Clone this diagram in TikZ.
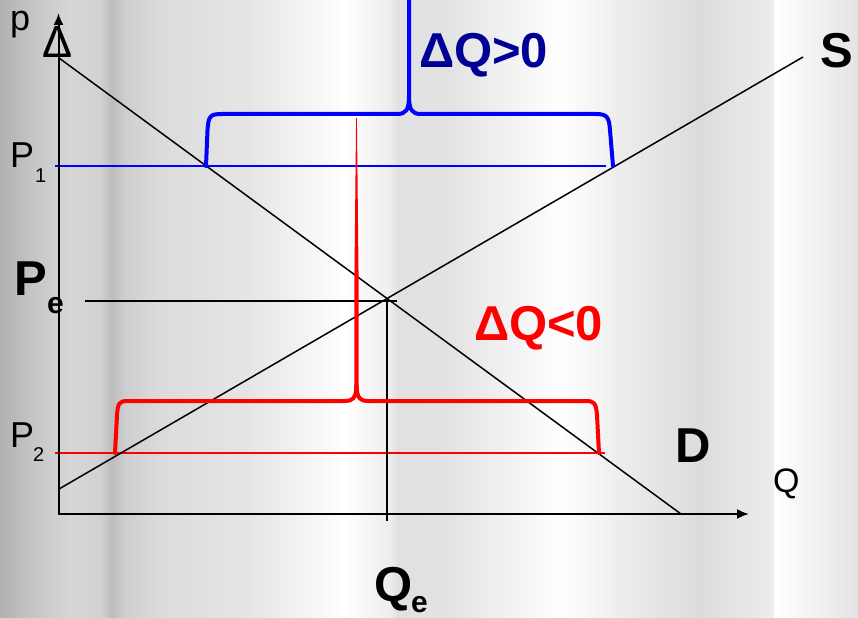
\documentclass[tikz,border=0pt]{standalone}
\usepackage{fontspec}
\setmainfont{Liberation Sans}
\usetikzlibrary{arrows.meta}
\definecolor{navy}{RGB}{0,0,150}
\definecolor{pblue}{RGB}{0,0,255}
\definecolor{pred}{RGB}{255,0,0}
\newcommand\fsz[1]{\fontsize{#1bp}{#1bp}\selectfont}
\newcommand\bgseg[4]{\shade[left color=black!#3, right color=black!#4] (#1,0) rectangle (#2,618);}
\tikzset{
  lbl/.style={inner sep=0pt, outer sep=0pt, anchor=base west},
  axis/.style={line width=2bp, -{Latex[length=12bp,width=10bp]}},
  curve/.style={line width=1.5bp, black},
  brace/.style={line width=4bp, line join=round, line cap=round},
}
\begin{document}
\begin{tikzpicture}[x=1bp,y=-1bp]
\useasboundingbox (0,0) rectangle (858,618);
\clip (0,0) rectangle (858,618);
% background stripes
\bgseg{-1}{30.5}{31}{23}
\bgseg{30}{70.5}{23}{16}
\bgseg{70}{100.5}{16}{18}
\bgseg{100}{112.5}{18}{26}
\bgseg{112}{125.5}{26}{19}
\bgseg{125}{160.5}{19}{14}
\bgseg{160}{250.5}{14}{10}
\bgseg{250}{330.5}{10}{2}
\bgseg{330}{345.5}{2}{0}
\bgseg{345}{390.5}{0}{7}
\bgseg{390}{397.5}{7}{12}
\bgseg{397}{450.5}{12}{11}
\bgseg{450}{560.5}{11}{0}
\bgseg{560}{620.5}{0}{7}
\bgseg{620}{700.5}{7}{14}
\bgseg{700}{772.5}{14}{7}
\bgseg{772}{775.5}{7}{0}
\bgseg{775}{859}{0}{11}

% coordinates
\coordinate (O) at (58.5,515);
\coordinate (ytip) at (58.5,13);
\coordinate (xtip) at (749,514);
\coordinate (D1) at (59,58);
\coordinate (D2) at (681,514);
\coordinate (S1) at (59,489);
\coordinate (S2) at (803,57);
\coordinate (Pe1) at (85,301);
\coordinate (Pe2) at (397,301);
\coordinate (Qe1) at (387,301);
\coordinate (Qe2) at (387,521);
\coordinate (P1a) at (55,166);
\coordinate (P1b) at (606,166);
\coordinate (P2a) at (55,453);
\coordinate (P2b) at (605,453);

% price lines
\draw[pblue, line width=1.5bp] (P1a) -- (P1b);
\draw[pred, line width=2bp] (P2a) -- (P2b);
\draw[curve] (Pe1) -- (Pe2);
\draw[curve] (Qe1) -- (Qe2);

% supply / demand
\draw[curve] (D1) -- (D2);
\draw[curve] (S1) -- (S2);

% axes
\draw[axis] (57.5,514) -- (xtip);
\draw[axis] (O) -- (ytip);

% blue brace
\draw[brace, pblue] (206,166) -- (207.5,130) .. controls (208.5,116) and (210,114) .. (222,114)
  -- (397,114) .. controls (406,114) and (409,110) .. (409,96) -- (409,-10);
\draw[brace, pblue] (409,96) .. controls (409,110) and (412,114) .. (421,114)
  -- (596,114) .. controls (607,114) and (609,117) .. (610,130) -- (613,166);

% red brace
\draw[brace, pred] (115,453) -- (117,415) .. controls (118,403) and (119,401) .. (128,401)
  -- (345,401) .. controls (352,401) and (356,399) .. (356.5,386);
\draw[brace, pred] (356.5,386) .. controls (357,399) and (361,401) .. (368,401)
  -- (586,401) .. controls (594,401) and (596,403) .. (597,415) -- (599,453);
\fill[pred] (354.3,392) -- (354.3,290) -- (356.1,118) -- (356.9,118) -- (358.7,290) -- (358.7,392) -- cycle;

% labels
\node[lbl] (p) at (10,31) {\fsz{36}p};
\node[inner sep=0pt, anchor=base] (delta) at (58,58) {\fsz{45}Δ};
\node[lbl] (P1) at (10,168) {\fsz{36}P};
\node[lbl] (P1s) at (35,183) {\fsz{20}1};
\node[lbl] (P2) at (10,447) {\fsz{36}P};
\node[lbl] (P2s) at (33,461) {\fsz{20}2};
\node[lbl] (Pe) at (14,295) {\fsz{49}\bfseries P};
\node[lbl] (Pes) at (47,313) {\fsz{30}\bfseries e};
\node[lbl] (Qe) at (374,601) {\fsz{49}\bfseries Q};
\node[lbl] (Qes) at (411,612) {\fsz{30}\bfseries e};
\node[lbl] (Dl) at (675,462) {\fsz{49}\bfseries D};
\node[lbl] (Sl) at (820,68) {\fsz{49}\bfseries S};
\node[lbl] (Ql) at (773,492) {\fsz{34}Q};
\node[lbl, text=navy] (dqp) at (419,68) {\fsz{49}\bfseries ΔQ>0};
\node[lbl, text=pred] (dqn) at (474,340) {\fsz{49}\bfseries ΔQ<0};
\end{tikzpicture}
\end{document}
